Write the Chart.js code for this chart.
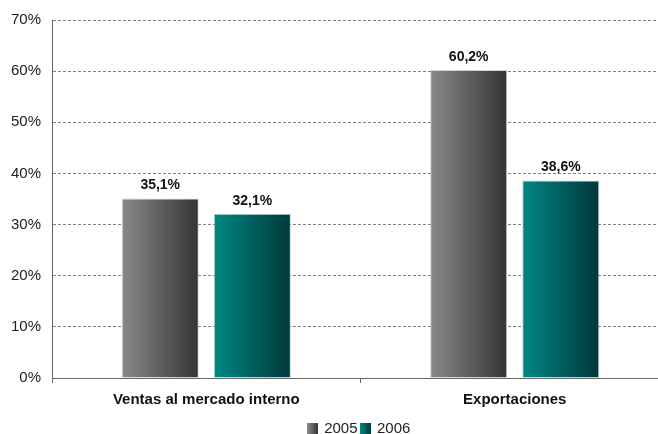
<!DOCTYPE html>
<html><head><meta charset="utf-8">
<script src="https://cdn.jsdelivr.net/npm/chart.js@4/dist/chart.umd.min.js"></script>
<style>html,body{margin:0;padding:0;background:#fff;overflow:hidden}#wrap{width:658px;height:434px;overflow:hidden}</style>
</head><body><div id="wrap"><canvas id="c" width="672" height="434"></canvas></div>
<script>
const categories = ["Ventas al mercado interno", "Exportaciones"];
const seriesNames = ["2005", "2006"];
const values2005 = [35.1, 60.2];
const values2006 = [32.1, 38.6];
const yTicks = [0, 10, 20, 30, 40, 50, 60, 70];

const gradStops = [["#8a8a8a", "#343434"], ["#008884", "#003838"]];
const FONT = "'Liberation Sans', Arial, sans-serif";

function legendIcon(stops){
  const cv = document.createElement('canvas'); cv.width = 11; cv.height = 11;
  const g = cv.getContext('2d');
  const gr = g.createLinearGradient(0,0,11,0);
  gr.addColorStop(0, stops[0]); gr.addColorStop(1, stops[1]);
  g.fillStyle = gr; g.fillRect(0,0,11,11);
  return cv;
}

const gradientPlugin = {
  id: 'grad',
  afterLayout(chart){
    if (chart.legend) { chart.legend.left += 25; chart.legend.right += 25; }
  },
  beforeDatasetsDraw(chart){
    const ctx = chart.ctx;
    chart.data.datasets.forEach((ds, di) => {
      const meta = chart.getDatasetMeta(di);
      meta.data.forEach(el => {
        const l = el.x - el.width/2, r = el.x + el.width/2;
        const g = ctx.createLinearGradient(l, 0, r, 0);
        g.addColorStop(0, gradStops[di][0]);
        g.addColorStop(1, gradStops[di][1]);
        el.options = Object.assign({}, el.options, { backgroundColor: g });
      });
    });
  }
};

const labelPlugin = {
  id: 'vlabels',
  afterDatasetsDraw(chart){
    const ctx = chart.ctx;
    ctx.save();
    ctx.font = "bold 14px " + FONT;
    ctx.fillStyle = "#111";
    ctx.textAlign = "center";
    ctx.textBaseline = "bottom";
    chart.data.datasets.forEach((ds, di) => {
      chart.getDatasetMeta(di).data.forEach((el, i) => {
        ctx.fillText(ds.data[i].toFixed(1).replace('.', ',') + '%', el.x, el.y - 6);
      });
    });
    ctx.restore();
  }
};

new Chart(document.getElementById('c'), {
  type: 'bar',
  data: {
    labels: categories,
    datasets: [
      { label: seriesNames[0], data: values2005, backgroundColor: gradStops[0][1], pointStyle: legendIcon(gradStops[0]),
        borderColor: 'rgba(190,190,190,0.7)', borderWidth: { top: 1, left: 1, right: 1, bottom: 0 },
        categoryPercentage: 0.597, barPercentage: 0.837 },
      { label: seriesNames[1], data: values2006, backgroundColor: gradStops[1][1], pointStyle: legendIcon(gradStops[1]),
        borderColor: 'rgba(150,200,200,0.7)', borderWidth: { top: 1, left: 1, right: 1, bottom: 0 },
        categoryPercentage: 0.597, barPercentage: 0.837 }
    ]
  },
  options: {
    responsive: false,
    animation: false,
    devicePixelRatio: 1,
    layout: { padding: { left: 0, right: 3, top: 14, bottom: -12 } },
    plugins: {
      legend: {
        position: 'bottom',
        labels: { usePointStyle: true, font: { family: FONT, size: 15 }, color: '#222', padding: 4, boxWidth: 8, boxHeight: 11 }
      },
      tooltip: { enabled: false }
    },
    scales: {
      y: {
        min: 0, max: 70,
        afterBuildTicks(axis){ axis.ticks = yTicks.map(v => ({ value: v })); },
        ticks: { callback: v => v + '%', font: { family: FONT, size: 15 }, color: '#222', padding: 11 },
        grid: { color: '#808080', lineWidth: 1, drawTicks: false },
        border: { display: true, color: '#666', dash: [3, 2] }
      },
      x: {
        ticks: { font: { family: FONT, size: 15, weight: 'bold' }, color: '#111', padding: 8 },
        grid: { display: true, drawOnChartArea: false, color: '#666', tickLength: 5 },
        border: { display: true, color: '#666' }
      }
    }
  },
  plugins: [gradientPlugin, labelPlugin]
});
</script></body></html>
